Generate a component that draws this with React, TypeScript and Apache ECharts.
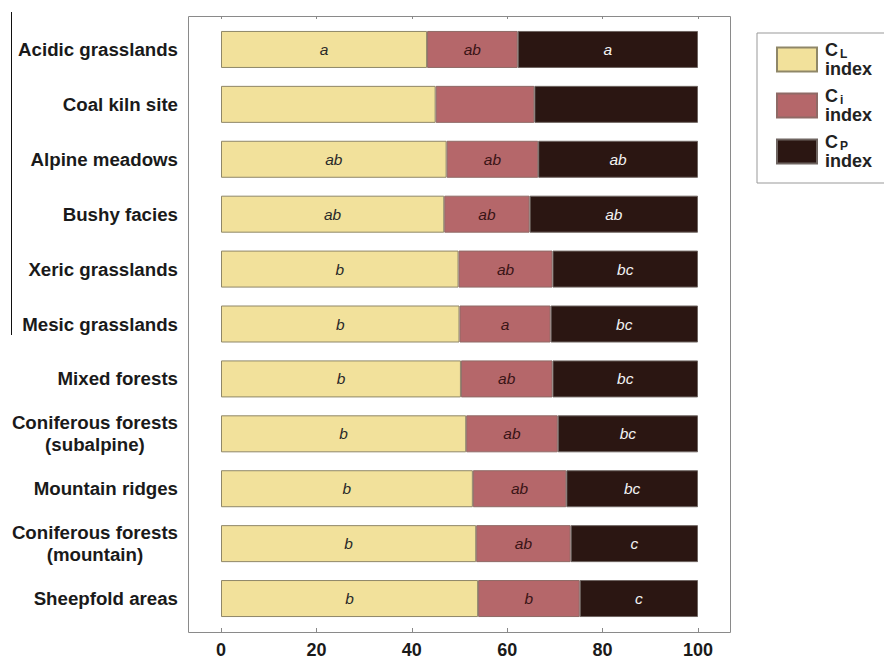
import React, { useEffect, useRef } from "react";
import * as echarts from "echarts";

// Habitat categories, top to bottom
const categories = [
  "Acidic grasslands",
  "Coal kiln site",
  "Alpine meadows",
  "Bushy facies",
  "Xeric grasslands",
  "Mesic grasslands",
  "Mixed forests",
  "Coniferous forests\n(subalpine)",
  "Mountain ridges",
  "Coniferous forests\n(mountain)",
  "Sheepfold areas",
];

// Stacked shares (%) of each index
const clIndex = [43.2, 45.0, 47.3, 46.8, 49.8, 50.0, 50.3, 51.4, 52.8, 53.5, 53.9];
const ciIndex = [19.0, 20.7, 19.2, 17.9, 19.7, 19.1, 19.2, 19.2, 19.6, 19.8, 21.3];
const cpIndex = [37.8, 34.3, 33.5, 35.3, 30.5, 30.9, 30.5, 29.4, 27.6, 26.7, 24.8];

// Significance letters shown inside each segment
const clLetters = ["a", "", "ab", "ab", "b", "b", "b", "b", "b", "b", "b"];
const ciLetters = ["ab", "", "ab", "ab", "ab", "a", "ab", "ab", "ab", "ab", "b"];
const cpLetters = ["a", "", "ab", "ab", "bc", "bc", "bc", "bc", "bc", "c", "c"];

const xTicks = [0, 20, 40, 60, 80, 100];

const FONT = "'Liberation Sans', Arial, Helvetica, sans-serif";

export default function App() {
  const ref = useRef<HTMLDivElement>(null);

  useEffect(() => {
    if (!ref.current) return;
    const chart = echarts.init(ref.current, null, { renderer: "svg" });

    const barLabel = (letters: string[], color: string) => ({
      show: true,
      position: "inside",
      formatter: (p: any) => letters[p.dataIndex],
      fontFamily: FONT,
      fontStyle: "italic",
      fontSize: 15.5,
      color,
    });

    const legendNames: Record<string, string> = {
      "CL index": "{c|C}{s|L}\n{t|index}",
      "Ci index": "{c|C}{s|i}\n{t|index}",
      "CP index": "{c|C}{s|P}\n{t|index}",
    };

    const option: any = {
      animation: false,
      backgroundColor: "#ffffff",
      grid: { left: 221, width: 477, top: 22, height: 605, containLabel: false },
      xAxis: [
        {
          type: "value",
          position: "bottom",
          min: 0,
          max: 100,
          interval: 20,
          offset: 6,
          axisLine: { show: false },
          axisTick: { show: true, inside: true, length: 4, lineStyle: { color: "#888" } },
          splitLine: { show: false },
          axisLabel: {
            margin: 9,
            fontFamily: FONT,
            fontSize: 18,
            fontWeight: "bold",
            color: "#1a1a1a",
            formatter: (v: number) => (xTicks.includes(v) ? String(v) : ""),
          },
        },
        {
          type: "value",
          position: "top",
          min: 0,
          max: 100,
          interval: 20,
          offset: 6,
          axisLine: { show: false },
          axisTick: { show: true, inside: true, length: 3, lineStyle: { color: "#888" } },
          splitLine: { show: false },
          axisLabel: { show: false },
        },
      ],
      yAxis: {
        type: "category",
        data: categories,
        inverse: true,
        axisLine: { show: false },
        axisTick: { show: false },
        axisLabel: {
          margin: 43,
          fontFamily: FONT,
          fontSize: 18.7,
          fontWeight: "bold",
          color: "#1a1a1a",
          lineHeight: 22,
          formatter: (v: string) =>
            v.includes("\n")
              ? v
                  .split("\n")
                  .map((s) => `{c|${s}}`)
                  .join("\n")
              : v,
          rich: {
            c: {
              align: "center",
              fontFamily: FONT,
              fontSize: 18.7,
              fontWeight: "bold",
              color: "#1a1a1a",
              lineHeight: 22,
            },
          },
        },
      },
      legend: {
        orient: "vertical",
        left: 757,
        top: 33,
        padding: [8, 60, 13, 19],
        itemWidth: 40,
        itemHeight: 24,
        itemGap: 9,
        borderColor: "#999",
        borderWidth: 1,
        icon: "rect",
        formatter: (name: string) => legendNames[name],
        textStyle: {
          fontFamily: FONT,
          color: "#222",
          rich: {
            c: { fontFamily: FONT, fontSize: 18, fontWeight: "bold", color: "#222", lineHeight: 19, padding: [0, 0, 0, 3] },
            s: { fontFamily: FONT, fontSize: 12, fontWeight: "bold", color: "#222", lineHeight: 13, verticalAlign: "bottom", padding: [0, 0, 0, 2] },
            t: { fontFamily: FONT, fontSize: 18, fontWeight: "bold", color: "#222", lineHeight: 19, padding: [0, 0, 0, 3] },
          },
        },
        data: ["CL index", "Ci index", "CP index"],
      },
      graphic: [
        {
          type: "rect",
          shape: { x: 188.5, y: 16.5, width: 542, height: 616 },
          style: { fill: "none", stroke: "#8a8a8a", lineWidth: 1 },
          silent: true,
          z: 0,
        },
        {
          type: "line",
          shape: { x1: 11.5, y1: 12, x2: 11.5, y2: 335 },
          style: { stroke: "#111", lineWidth: 1 },
          silent: true,
        },
      ],
      series: [
        {
          name: "CL index",
          type: "bar",
          stack: "total",
          barWidth: 37,
          data: clIndex,
          itemStyle: { color: "#f2e19b", borderColor: "#8f8768", borderWidth: 1 },
          label: barLabel(clLetters, "#2a2a2a"),
        },
        {
          name: "Ci index",
          type: "bar",
          stack: "total",
          barWidth: 37,
          data: ciIndex,
          itemStyle: { color: "#b5676a", borderColor: "#8f6a66", borderWidth: 1 },
          label: barLabel(ciLetters, "#3a1416"),
        },
        {
          name: "CP index",
          type: "bar",
          stack: "total",
          barWidth: 37,
          data: cpIndex,
          itemStyle: { color: "#2b1612", borderColor: "#6e6460", borderWidth: 1 },
          label: barLabel(cpLetters, "#f2f2f2"),
        },
      ],
    };

    chart.setOption(option);
    return () => chart.dispose();
  }, []);

  return (
    <div
      ref={ref}
      style={{ position: "fixed", left: 0, top: 0, width: 884, height: 659, background: "#fff" }}
    />
  );
}
